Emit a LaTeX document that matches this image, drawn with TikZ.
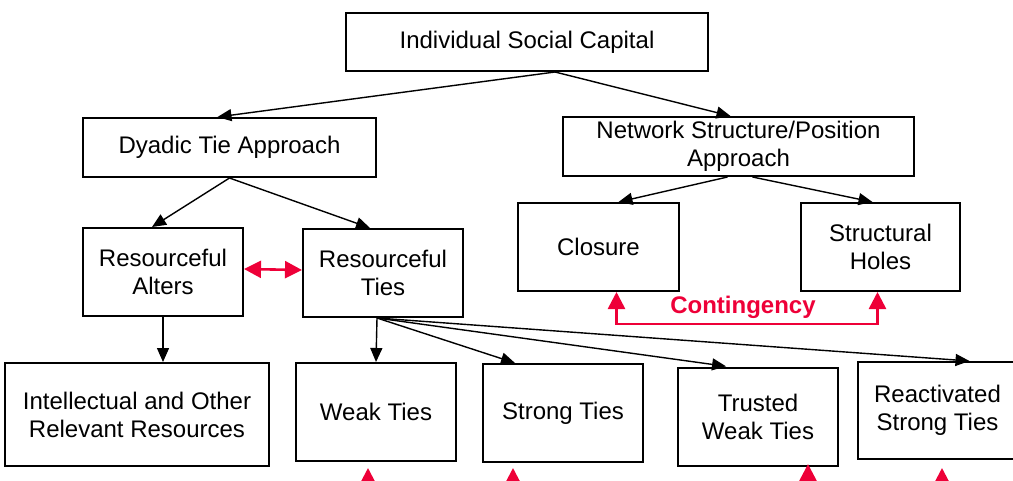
\documentclass[tikz,border=0pt]{standalone}
\usepackage{fontspec}
\setmainfont{Liberation Sans}
\usepackage{tikz}
\usetikzlibrary{arrows.meta, positioning, calc}
\definecolor{contred}{RGB}{238,0,56}

\begin{document}
\begin{tikzpicture}[x=1pt, y=-1pt,
	box/.style={draw, line width=2pt, align=center, inner sep=0pt,
	  font=\fontsize{24}{28}\selectfont},
	link/.style={line width=1.4pt, -{Triangle[length=14pt, width=12pt]}},
	redlink/.style={draw=contred, line width=2.6pt},
	redtip/.tip={Triangle[length=17pt, width=17pt, fill=contred, color=contred]}]

		\path[use as bounding box] (0,0) rectangle (1013,480);
		\clip (0,0) rectangle (1013,480);

		% top levels
		\node[box, minimum width=362pt, minimum height=58pt] (isc) at (527,42) {Individual Social Capital};
		\node[box, minimum width=293pt, minimum height=59pt] (dyadic) at (229.5,147.5) {Dyadic Tie Approach};
		\node[box, minimum width=351pt, minimum height=59pt] (nsp) at (738.5,146.5) {Network Structure/Position\\Approach};

		\node[box, minimum width=161pt, minimum height=88pt] (closure) at (598.5,247) {Closure};
		\node[box, minimum width=159pt, minimum height=88pt] (sholes) at (880.5,247) {Structural\\Holes};
		\node[box, minimum width=160pt, minimum height=88pt] (ralters) at (163,272) {Resourceful\\Alters};
		\node[box, minimum width=160pt, minimum height=88pt] (rties) at (383,273) {Resourceful\\Ties};

		% bottom row
		\node[box, minimum width=264pt, minimum height=103pt] (intel) at (137,414.5) {Intellectual and Other\\Relevant Resources};
		\node[box, minimum width=160pt, minimum height=98pt] (weak) at (376,412) {Weak Ties};
		\node[box, minimum width=160pt, minimum height=98pt] (strong) at (563,413) {Strong Ties};
		\node[box, minimum width=160pt, minimum height=98pt] (trusted) at (758,417) {Trusted\\Weak Ties};
		\node[box, minimum width=159pt, minimum height=97pt] (react) at (937.5,410.5) {Reactivated\\Strong Ties};

		\draw[link] ([xshift=28pt]isc.south) -- ([xshift=-12pt]dyadic.north);
		\draw[link] ([xshift=28pt]isc.south) -- ([xshift=-8pt]nsp.north);
		\draw[link] ([xshift=-11pt]nsp.south) -- ([xshift=20pt]closure.north);
		\draw[link] ([xshift=14pt]nsp.south) -- ([xshift=-8pt]sholes.north);
		\draw[link] (dyadic.south) -- ([xshift=-11pt]ralters.north);
		\draw[link] (dyadic.south) -- ([xshift=-13pt]rties.north);
		\draw[link] (ralters.south) -- (ralters.south |- intel.north);

		\draw[link] ([xshift=-6pt]rties.south) -- (weak.north);
		\draw[link] ([xshift=-6pt]rties.south) -- ([xshift=-48pt]strong.north);
		\draw[link, shorten >=5pt] ([xshift=-6pt]rties.south) -- ([xshift=-27pt]trusted.north);
		\draw[link] ([xshift=-6pt]rties.south) -- ([xshift=32pt]react.north);

		% red arrows
		\draw[redlink, {redtip}-{redtip}] ([yshift=3pt]ralters.east) -- ([yshift=3pt]rties.west);
		\draw[redlink, {redtip}-{redtip}] ([xshift=18pt]closure.south) -- ++(0,32) -| ([xshift=-3pt]sholes.south);
		\node[text=contred, font=\fontsize{24}{28}\selectfont\bfseries] (cont) at (743,307) {Contingency};

		\foreach \n/\dx/\gap in {weak/-8/6, strong/-50/5, trusted/50/-3, react/4.5/8}
			\draw[redlink, -{redtip}, shorten >=\gap pt] ($(\n.south)+(\dx,40)$) -- ([xshift=\dx pt]\n.south);

\end{tikzpicture}
\end{document}
